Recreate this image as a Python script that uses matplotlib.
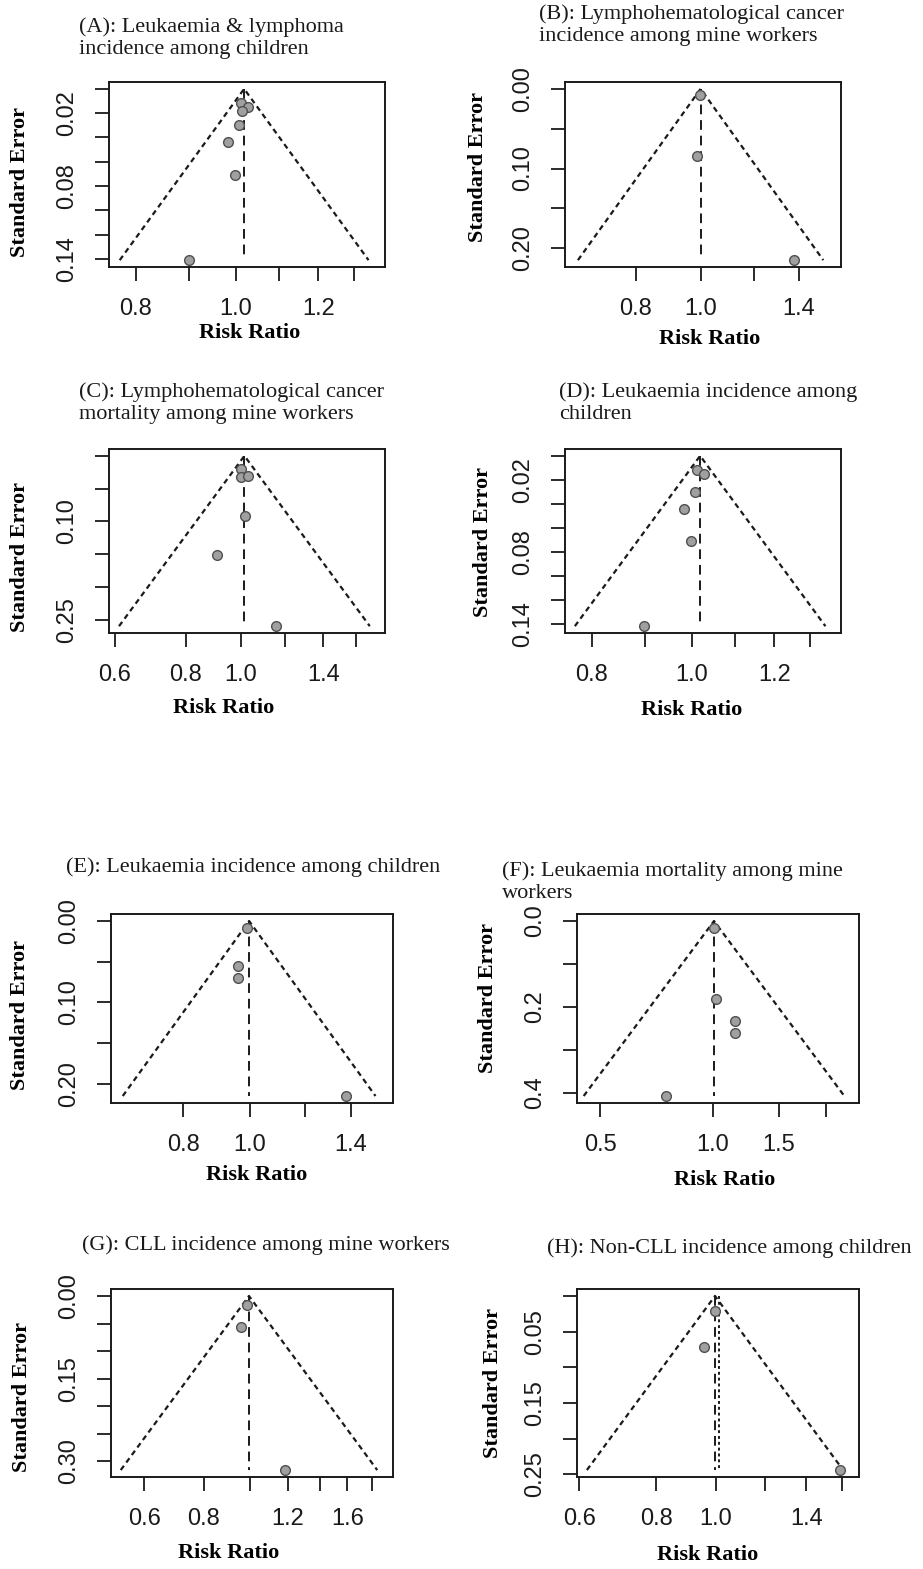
import numpy as np
import matplotlib.pyplot as plt

plt.rcParams['font.family'] = ['Liberation Serif', 'DejaVu Serif']

W, H = 923, 1569

titles = [
    "(A): Leukaemia & lymphoma\nincidence among children",
    "(B): Lymphohematological cancer\nincidence among mine workers",
    "(C): Lymphohematological cancer\nmortality among mine workers",
    "(D): Leukaemia incidence among\nchildren",
    "(E): Leukaemia incidence among children",
    "(F): Leukaemia mortality among mine\nworkers",
    "(G): CLL incidence among mine workers",
    "(H): Non-CLL incidence among children",
]

# study risk ratios / standard errors, and pooled estimate(s) per panel
rr_a = [1.011, 1.027, 1.013, 1.007, 0.982, 0.998, 0.900]
se_a = [0.012, 0.015, 0.018, 0.030, 0.044, 0.071, 0.141]
est_a = [1.018]

rr_b = [0.997, 0.986, 1.377]
se_b = [0.008, 0.084, 0.215]
est_b = [0.999]

rr_c = [1.004, 1.004, 1.032, 1.018, 0.909, 1.153]
se_c = [0.020, 0.032, 0.031, 0.092, 0.151, 0.260]
est_c = [1.016]

rr_d = [1.011, 1.027, 1.007, 0.982, 0.998, 0.899]
se_d = [0.012, 0.015, 0.030, 0.044, 0.071, 0.142]
est_d = [1.018]

rr_e = [0.990, 0.961, 0.961, 1.377]
se_e = [0.008, 0.055, 0.070, 0.215]
est_e = [0.997]

rr_f = [1.006, 1.018, 1.145, 1.145, 0.750]
se_f = [0.017, 0.182, 0.232, 0.261, 0.408]
est_f = [1.006]

rr_g = [0.986, 0.958, 1.184]
se_g = [0.017, 0.057, 0.316]
est_g = [0.995]

rr_h = [0.996, 0.956, 1.589]
se_h = [0.021, 0.071, 0.244]
est_h = [0.996, 1.011]

rr_all = [rr_a, rr_b, rr_c, rr_d, rr_e, rr_f, rr_g, rr_h]
se_all = [se_a, se_b, se_c, se_d, se_e, se_f, se_g, se_h]
est_all = [est_a, est_b, est_c, est_d, est_e, est_f, est_g, est_h]

# x ticks (risk ratio) and which of them carry a label
xt_all = [
    [0.8, 0.9, 1.0, 1.1, 1.2, 1.3],
    [0.8, 1.0, 1.2, 1.4],
    [0.6, 0.8, 1.0, 1.2, 1.4, 1.6],
    [0.8, 0.9, 1.0, 1.1, 1.2, 1.3],
    [0.8, 1.0, 1.2, 1.4],
    [0.5, 1.0, 1.5, 2.0],
    [0.6, 0.8, 1.0, 1.2, 1.4, 1.6, 1.8],
    [0.6, 0.8, 1.0, 1.2, 1.4, 1.6],
]
xl_all = [
    ["0.8", "", "1.0", "", "1.2", ""],
    ["0.8", "1.0", "", "1.4"],
    ["0.6", "0.8", "1.0", "", "1.4", ""],
    ["0.8", "", "1.0", "", "1.2", ""],
    ["0.8", "1.0", "", "1.4"],
    ["0.5", "1.0", "1.5", ""],
    ["0.6", "0.8", "", "1.2", "", "1.6", ""],
    ["0.6", "0.8", "1.0", "", "1.4", ""],
]
yt_all = [
    [0.00, 0.02, 0.04, 0.06, 0.08, 0.10, 0.12, 0.14],
    [0.00, 0.05, 0.10, 0.15, 0.20],
    [0.00, 0.05, 0.10, 0.15, 0.20, 0.25],
    [0.00, 0.02, 0.04, 0.06, 0.08, 0.10, 0.12, 0.14],
    [0.00, 0.05, 0.10, 0.15, 0.20],
    [0.0, 0.1, 0.2, 0.3, 0.4],
    [0.00, 0.05, 0.10, 0.15, 0.20, 0.25, 0.30],
    [0.00, 0.05, 0.10, 0.15, 0.20, 0.25],
]
yl_all = [
    ["", "0.02", "", "", "0.08", "", "", "0.14"],
    ["0.00", "", "0.10", "", "0.20"],
    ["", "", "0.10", "", "", "0.25"],
    ["", "0.02", "", "", "0.08", "", "", "0.14"],
    ["0.00", "", "0.10", "", "0.20"],
    ["0.0", "", "0.2", "", "0.4"],
    ["0.00", "", "", "0.15", "", "", "0.30"],
    ["", "0.05", "", "0.15", "", "0.25"],
]

# layout in pixels: plot box (left, top, right, bottom), x limits
boxes = [(109, 82, 385, 267), (565, 82, 841, 267),
         (109, 449, 385, 633), (565, 449, 841, 633),
         (111, 914, 393, 1103), (577, 914, 859, 1103),
         (111, 1289, 393, 1477), (577, 1289, 859, 1477)]
xlims = [(0.754, 1.392), (0.627, 1.618), (0.586, 1.799), (0.754, 1.392),
         (0.629, 1.611), (0.434, 2.449), (0.511, 1.995), (0.595, 1.705)]
title_pos = [(79, 38), (539, 25), (79, 403), (559, 403),
             (66, 867), (502, 882), (82, 1245), (547, 1248)]
xlab_pos = [(250, 333), (710, 339), (224, 708), (692, 710),
            (257, 1175), (725, 1180), (229, 1553), (708, 1555)]
ylab_pos = [(20, 182), (478, 167), (20, 557), (483, 542),
            (20, 1015), (488, 998), (22, 1397), (493, 1383)]

fig = plt.figure(figsize=(W / 100, H / 100), dpi=100)

for i in range(8):
    l, t, r, b = boxes[i]
    ax = fig.add_axes([l / W, 1 - b / H, (r - l) / W, (b - t) / H])
    rr = np.array(rr_all[i])
    se = np.array(se_all[i])
    semax = se.max()
    est = np.log(est_all[i][0])

    # funnel
    fx = np.exp([est - 1.96 * semax, est, est + 1.96 * semax])
    fy = [semax, 0, semax]
    ax.plot(fx, fy, color='#1a1a1a', lw=1.6, ls=(0, (2.4, 1.8)))
    styles = [(0, (5, 3)), (0, (1.5, 1.5))]
    for k, e in enumerate(est_all[i]):
        ax.plot([e, e], [0, semax], color='#1a1a1a', lw=1.4, ls=styles[k])

    ax.plot(rr, se, 'o', ms=7, mfc='#a0a0a0', mec='#505050', mew=1.0)

    ax.set_xscale('log')
    ax.set_xlim(*xlims[i])
    ax.set_ylim(semax * 1.04, -semax * 0.04)
    ax.minorticks_off()
    ax.set_xticks(xt_all[i])
    ax.set_xticklabels(xl_all[i])
    ax.set_yticks(yt_all[i])
    ax.set_yticklabels(yl_all[i], rotation=90, va='center')
    ax.tick_params(length=10, width=1.3, labelsize=17, colors='#1a1a1a')
    ax.tick_params(axis='x', pad=12)
    ax.tick_params(axis='y', pad=12)
    for lab in ax.get_xticklabels() + ax.get_yticklabels():
        lab.set_family(['Liberation Sans', 'DejaVu Sans'])
    for sp in ax.spines.values():
        sp.set_linewidth(1.4)
        sp.set_color('#1a1a1a')

    tx, ty = title_pos[i]
    fig.text(tx / W, 1 - ty / H, titles[i], fontsize=16, va='center',
             ha='left', linespacing=1.2, color='#1a1a1a')
    xx, xy = xlab_pos[i]
    fig.text(xx / W, 1 - xy / H, 'Risk Ratio', fontsize=16,
             fontweight='bold', ha='center', va='center')
    yx, yy = ylab_pos[i]
    fig.text(yx / W, 1 - yy / H, 'Standard Error', fontsize=16,
             fontweight='bold', ha='center', va='center', rotation=90)

fig.savefig('out.png', dpi=100, facecolor='white')
